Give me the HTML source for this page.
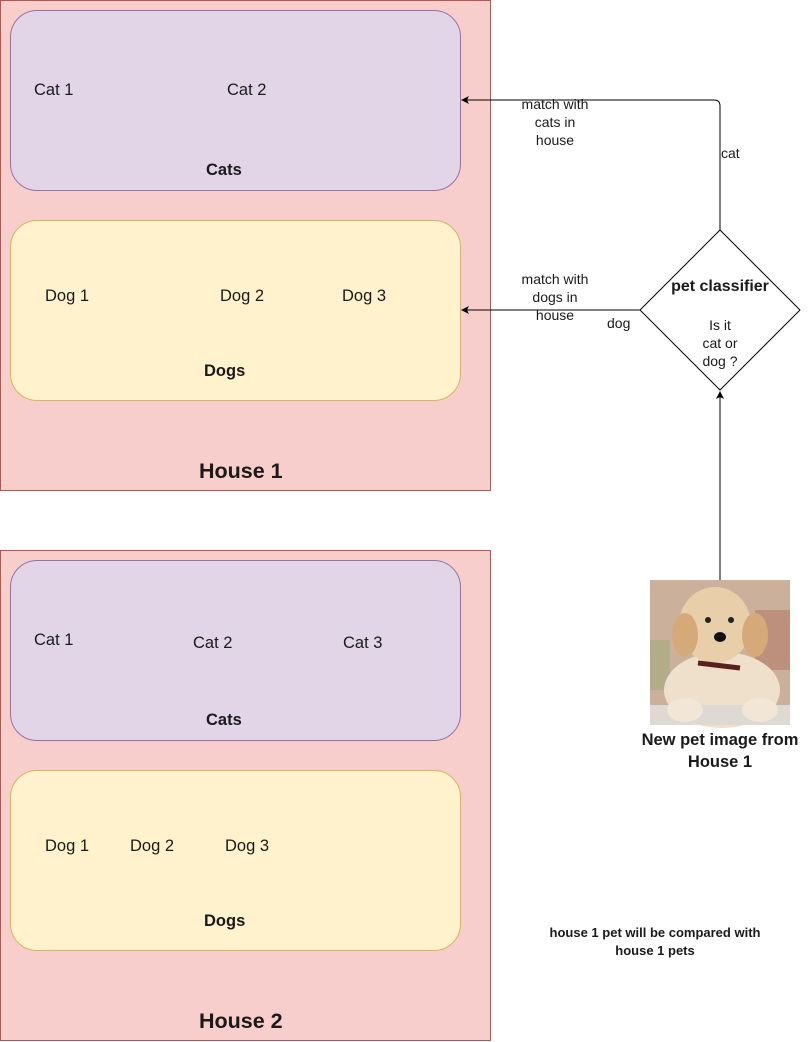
<!DOCTYPE html>
<html><head><meta charset="utf-8"><style>
body{margin:0;width:811px;height:1042px;background:#fff;position:relative;overflow:hidden;font-family:"Liberation Sans",Arial,sans-serif;}
.a{position:absolute;}
.house{background:#f8cecc;border:1px solid #b85450;box-sizing:border-box;}
.cats{background:#e1d5e7;border:1px solid #9673a6;border-radius:27px;box-sizing:border-box;}
.dogs{background:#fff2cc;border:1px solid #d6b656;border-radius:27px;box-sizing:border-box;}
.t{position:absolute;font-size:16.5px;color:#1a1a1a;white-space:nowrap;}
.b{font-weight:bold;}
.s{position:absolute;font-size:14px;color:#1a1a1a;text-align:center;line-height:18px;white-space:nowrap;}
</style></head><body>
<div class="a house" style="left:0;top:0;width:491px;height:491px"></div>
<div class="a cats" style="left:10px;top:10px;width:451px;height:181px"></div>
<div class="a dogs" style="left:10px;top:220px;width:451px;height:181px"></div>
<div class="t" style="left:34px;top:81px">Cat 1</div>
<div class="t" style="left:227px;top:81px">Cat 2</div>
<div class="t b" style="left:206px;top:161px">Cats</div>
<div class="t" style="left:45px;top:287px">Dog 1</div>
<div class="t" style="left:220px;top:287px">Dog 2</div>
<div class="t" style="left:342px;top:287px">Dog 3</div>
<div class="t b" style="left:204px;top:362px">Dogs</div>
<div class="t b" style="left:199px;top:459px;font-size:21.5px">House 1</div>

<div class="a house" style="left:0;top:550px;width:491px;height:491px"></div>
<div class="a cats" style="left:10px;top:560px;width:451px;height:181px"></div>
<div class="a dogs" style="left:10px;top:770px;width:451px;height:181px"></div>
<div class="t" style="left:34px;top:631px">Cat 1</div>
<div class="t" style="left:193px;top:634px">Cat 2</div>
<div class="t" style="left:343px;top:634px">Cat 3</div>
<div class="t b" style="left:206px;top:711px">Cats</div>
<div class="t" style="left:45px;top:837px">Dog 1</div>
<div class="t" style="left:130px;top:837px">Dog 2</div>
<div class="t" style="left:225px;top:837px">Dog 3</div>
<div class="t b" style="left:204px;top:912px">Dogs</div>
<div class="t b" style="left:199px;top:1009px;font-size:21.5px">House 2</div>

<svg class="a" style="left:0;top:0" width="811" height="1042">
<defs><marker id="ar" markerWidth="8" markerHeight="8" refX="7" refY="4" orient="auto" markerUnits="userSpaceOnUse"><path d="M0,0 L8,4 L0,8 L2,4 Z" fill="#000"/></marker></defs>
<polygon points="720,230 800,310 720,390 640,310" fill="#fff" stroke="#000" stroke-width="1"/>
<path d="M720,230 V106 Q720,100 714,100 H462" fill="none" stroke="#000" marker-end="url(#ar)"/>
<path d="M640,310 H462" fill="none" stroke="#000" marker-end="url(#ar)"/>
<path d="M720,580 V392" fill="none" stroke="#000" marker-end="url(#ar)"/>
<g transform="translate(650,580)">
<rect width="140" height="145" fill="#b89a82"/>
<rect x="0" y="0" width="140" height="145" fill="#d7c1ac" opacity="0.6"/>
<rect x="105" y="30" width="35" height="60" fill="#b47a6a" opacity="0.6"/>
<rect x="0" y="60" width="20" height="50" fill="#9aa878" opacity="0.5"/>
<ellipse cx="72" cy="110" rx="58" ry="38" fill="#efe0cc"/>
<rect x="0" y="125" width="140" height="20" fill="#ded9d2"/>
<ellipse cx="65" cy="45" rx="36" ry="38" fill="#e8cfaa"/>
<ellipse cx="35" cy="55" rx="13" ry="22" fill="#d6aa78"/>
<ellipse cx="105" cy="55" rx="13" ry="22" fill="#d6aa78"/>
<circle cx="58" cy="40" r="3" fill="#222"/><circle cx="81" cy="40" r="3" fill="#222"/>
<ellipse cx="70" cy="57" rx="6" ry="5" fill="#111"/>
<path d="M48,83 L90,88" stroke="#5a2020" stroke-width="5"/>
<ellipse cx="35" cy="130" rx="18" ry="12" fill="#f2e6d6"/>
<ellipse cx="110" cy="130" rx="18" ry="12" fill="#f2e6d6"/>
</g>
</svg>
<div class="s b" style="left:640px;top:278px;width:160px;font-size:16px">pet classifier</div>
<div class="s" style="left:670px;top:316px;width:100px">Is it<br>cat or<br>dog ?</div>
<div class="s" style="left:505px;top:95px;width:100px">match with<br>cats in<br>house</div>
<div class="s" style="left:505px;top:270px;width:100px">match with<br>dogs in<br>house</div>
<div class="s" style="left:721px;top:144px">cat</div>
<div class="s" style="left:607px;top:314px">dog</div>
<div class="s b" style="left:620px;top:729px;width:200px;font-size:16.5px;line-height:22px">New pet image from<br>House 1</div>
<div class="s b" style="left:505px;top:924px;width:300px;font-size:13px;line-height:18px">house 1 pet will be compared with<br>house 1 pets</div>
</body></html>
